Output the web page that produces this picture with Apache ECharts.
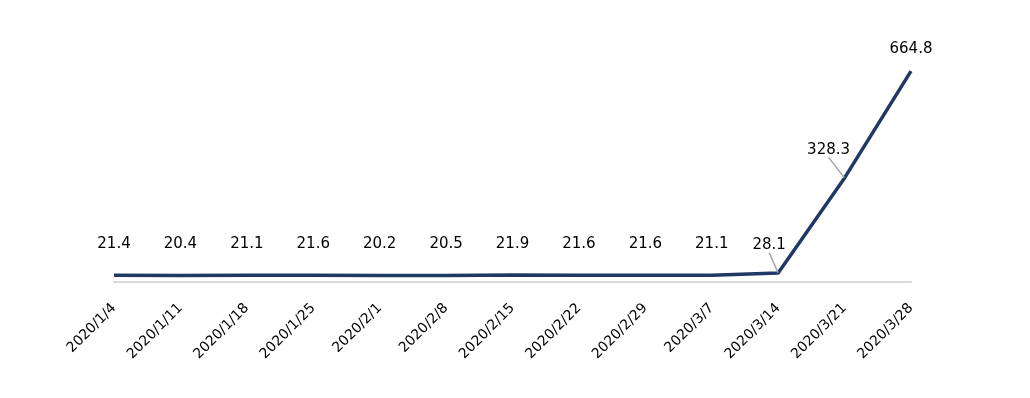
<!DOCTYPE html>
<html>
<head>
<meta charset="utf-8">
<script src="https://cdn.jsdelivr.net/npm/echarts@6/dist/echarts.min.js"></script>
<style>html,body{margin:0;padding:0;background:#fff;}#c{width:1030px;height:398px;}</style>
</head>
<body>
<div id="c"></div>
<script>
const categories = ['2020/1/4','2020/1/11','2020/1/18','2020/1/25','2020/2/1','2020/2/8','2020/2/15','2020/2/22','2020/2/29','2020/3/7','2020/3/14','2020/3/21','2020/3/28'];
const values = [21.4,20.4,21.1,21.6,20.2,20.5,21.9,21.6,21.6,21.1,28.1,328.3,664.8];

const chart = echarts.init(document.getElementById('c'));
const data = values.map((v, i) => {
  const item = { value: v };
  if (i === 12) item.label = { distance: 14 };
  if (i === 10 || i === 11) item.labelLine = { show: true };
  return item;
});
chart.setOption({
  animation: false,
  grid: { left: 114, right: 119, top: 60, bottom: 116 },
  xAxis: {
    type: 'category',
    data: categories,
    boundaryGap: false,
    axisLine: { lineStyle: { color: '#d9d9d9', width: 2 } },
    axisTick: { show: false },
    axisLabel: { rotate: 45, color: '#000', fontSize: 14, margin: 24, fontFamily: 'DejaVu Sans', interval: 0 }
  },
  yAxis: { type: 'value', min: 0, max: 700, show: false, splitLine: { show: false } },
  series: [{
    type: 'line',
    data: data,
    symbol: 'circle',
    symbolSize: 1,
    showSymbol: true,
    itemStyle: { color: 'rgba(0,0,0,0)' },
    lineStyle: { color: '#203864', width: 3.5 },
    label: { show: true, position: 'top', distance: 23, color: '#000', fontSize: 15, fontFamily: 'DejaVu Sans' },
    labelLine: { show: false, lineStyle: { color: '#a6a6a6', width: 1.5 } },
    labelLayout: function (p) {
      if (p.dataIndex === 11) return { dx: -16, dy: 3 };
      if (p.dataIndex === 10) return { dx: -9, dy: 3 };
      return {};
    }
  }]
});
</script>
</body>
</html>
